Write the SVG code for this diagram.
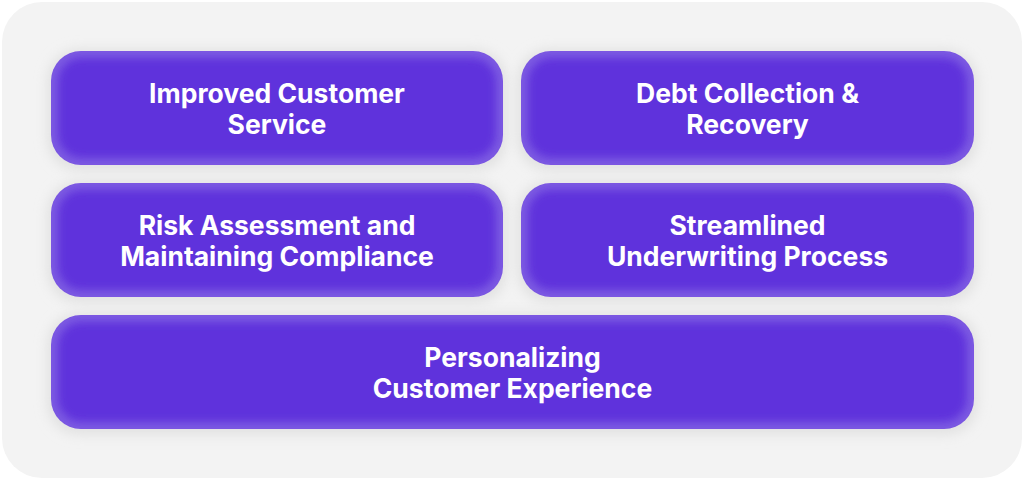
<svg xmlns="http://www.w3.org/2000/svg" width="1024" height="479" viewBox="0 0 1024 479">
<defs>
<style>
.lbl{font-family:Inter,"Liberation Sans",sans-serif;font-weight:700;font-size:26.5px;fill:#ffffff;text-anchor:middle}
.edge{fill:#7c5ae2}
.core{fill:#5e30dc;filter:url(#soft)}
.sh{fill:#e2e2e2;filter:url(#shadow)}
</style>
<filter id="soft" x="-10%" y="-20%" width="120%" height="140%"><feGaussianBlur stdDeviation="4"/></filter>
<filter id="shadow" x="-10%" y="-30%" width="120%" height="160%"><feGaussianBlur stdDeviation="6"/></filter>
<clipPath id="c1"><rect x="51" y="51" width="452" height="114" rx="30"/></clipPath>
<clipPath id="c2"><rect x="521" y="51" width="453" height="114" rx="30"/></clipPath>
<clipPath id="c3"><rect x="51" y="183" width="452" height="114" rx="30"/></clipPath>
<clipPath id="c4"><rect x="521" y="183" width="453" height="114" rx="30"/></clipPath>
<clipPath id="c5"><rect x="51" y="315" width="923" height="114" rx="30"/></clipPath>
</defs>
<rect width="1024" height="479" fill="#ffffff"/>
<rect x="2" y="2" width="1020" height="476" rx="40" fill="#f3f3f3"/>
<g id="shadows">
<rect class="sh" x="47" y="49" width="460" height="122" rx="32"/>
<rect class="sh" x="517" y="49" width="461" height="122" rx="32"/>
<rect class="sh" x="47" y="181" width="460" height="122" rx="32"/>
<rect class="sh" x="517" y="181" width="461" height="122" rx="32"/>
<rect class="sh" x="47" y="313" width="931" height="122" rx="32"/>
</g>
<g id="node1">
<g clip-path="url(#c1)"><rect class="edge" x="51" y="51" width="452" height="114"/><rect class="core" x="58" y="58" width="438" height="100" rx="24"/></g>
<text class="lbl" x="277" y="103">Improved Customer</text>
<text class="lbl" x="277" y="134">Service</text>
</g>
<g id="node2">
<g clip-path="url(#c2)"><rect class="edge" x="521" y="51" width="453" height="114"/><rect class="core" x="528" y="58" width="439" height="100" rx="24"/></g>
<text class="lbl" x="747.5" y="103">Debt Collection &amp;</text>
<text class="lbl" x="747.5" y="134">Recovery</text>
</g>
<g id="node3">
<g clip-path="url(#c3)"><rect class="edge" x="51" y="183" width="452" height="114"/><rect class="core" x="58" y="190" width="438" height="100" rx="24"/></g>
<text class="lbl" x="277" y="235">Risk Assessment and</text>
<text class="lbl" x="277" y="266">Maintaining Compliance</text>
</g>
<g id="node4">
<g clip-path="url(#c4)"><rect class="edge" x="521" y="183" width="453" height="114"/><rect class="core" x="528" y="190" width="439" height="100" rx="24"/></g>
<text class="lbl" x="747.5" y="235">Streamlined</text>
<text class="lbl" x="747.5" y="266">Underwriting Process</text>
</g>
<g id="node5">
<g clip-path="url(#c5)"><rect class="edge" x="51" y="315" width="923" height="114"/><rect class="core" x="58" y="322" width="909" height="100" rx="24"/></g>
<text class="lbl" x="512.5" y="367">Personalizing</text>
<text class="lbl" x="512.5" y="398">Customer Experience</text>
</g>
<g id="connectors"/>
</svg>
